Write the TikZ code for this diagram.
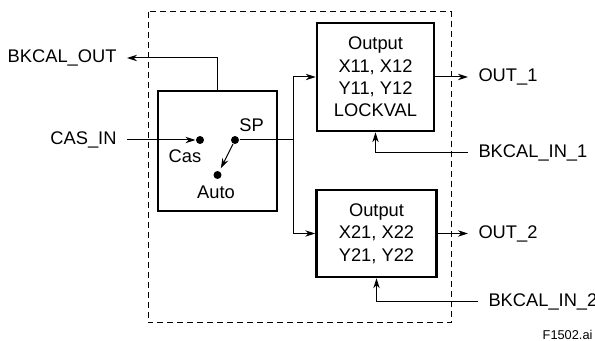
\documentclass[tikz,border=0pt]{standalone}
\usepackage{fontspec}
\setmainfont{Liberation Sans}
\usetikzlibrary{arrows.meta,positioning,calc}

\begin{document}
\begin{tikzpicture}[x=0.5pt,y=-0.5pt,font=\fontsize{9.15}{11.2}\selectfont,
  >={Stealth[length=5pt,width=3.2pt]},
  blk/.style={draw,line width=1.3pt,align=center,inner sep=0pt},
  lbl/.style={inner sep=5pt},
  dot/.style={circle,fill,inner sep=0pt,minimum size=4pt},
  every path/.style={line width=0.5pt}]
\useasboundingbox (0,0) rectangle (595,341);
\draw[dash pattern=on 3pt off 2pt] (148,12) rectangle (451,323);
% mode selector
\node[blk,minimum width=59.5pt,minimum height=60pt] (sel) at (217.5,151) {};
\node[dot] (cas) at (200,140) {};
\node[dot] (sp) at (235,140) {};
\node[dot] (auto) at (217.5,175) {};
\node[inner sep=0pt] (caslbl) at (185,156) {Cas};
\node[inner sep=0pt] (splbl) at (251.5,125) {SP};
\node[inner sep=0pt] (autolbl) at (216,192) {Auto};
\draw[->,shorten >=1.5pt] (sp) -- (auto);
% output blocks
\node[blk,minimum width=58.5pt,minimum height=54pt] (out1) at (375.5,77)
  {Output\\X11, X12\\Y11, Y12\\LOCKVAL};
\node[blk,minimum width=60pt,minimum height=43.5pt] (out2) at (376.5,233.5)
  {Output\\X21, X22\\Y21, Y22};
\coordinate (jn) at (293,140);
\draw (sp) -- (jn);
\draw[->] (jn) |- (out1.west);
\draw[->] (jn) |- (out2.west);
% external signals
\node[lbl,anchor=east] (casin) at (127,140) {CAS\_IN};
\node[lbl,anchor=east] (bkout) at (127,58) {BKCAL\_OUT};
\node[lbl,anchor=west] (o1) at (468,77) {OUT\_1};
\node[lbl,anchor=west] (o2) at (468,233.5) {OUT\_2};
\node[lbl,anchor=west] (bkin1) at (468,153) {BKCAL\_IN\_1};
\node[lbl,anchor=west] (bkin2) at (478,302) {BKCAL\_IN\_2};
\draw[->] (casin.east) -- (cas);
\draw[->] (sel.north) |- (bkout.east);
\draw[->] (out1.east) -- (o1.west);
\draw[->] (out2.east) -- (o2.west);
\draw[->] (bkin1.west) -| (out1.south);
\draw[->] (bkin2.west) -| (out2.south);
\node[inner sep=0pt,anchor=east,font=\fontsize{6.4}{7}\selectfont] (fig) at (593,335) {F1502.ai};
\end{tikzpicture}
\end{document}
